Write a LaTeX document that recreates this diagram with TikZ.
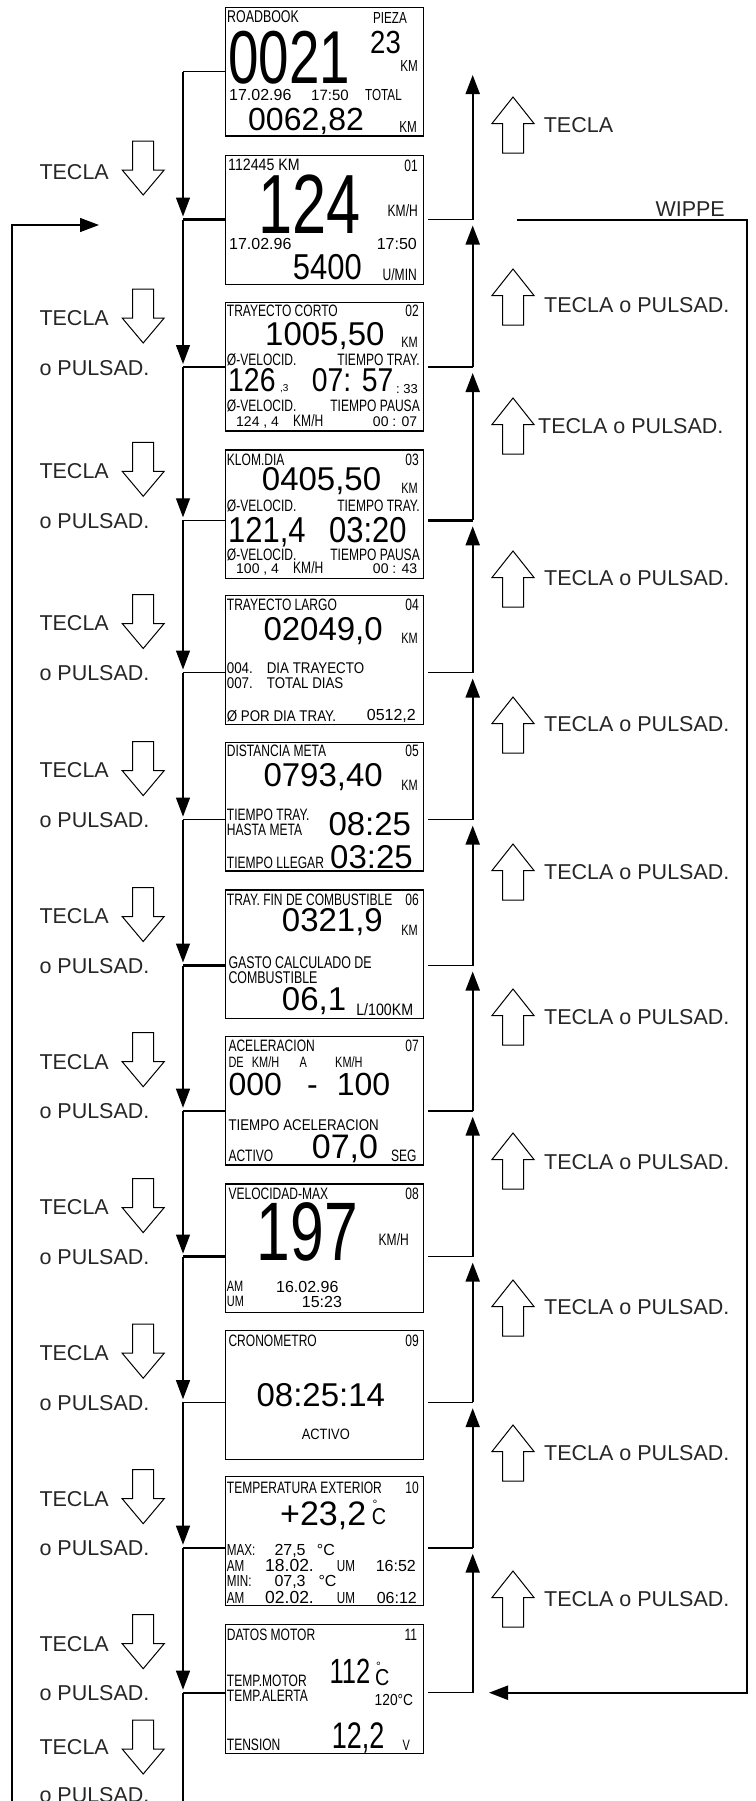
\documentclass[tikz,border=0pt]{standalone}
\usepackage{fontspec}
\setmainfont{Liberation Sans}
\newfontfamily\lcdcnd[FakeStretch=0.73]{Liberation Sans}
\newfontfamily\lcdsmc[FakeStretch=0.86]{Liberation Sans}
\usetikzlibrary{arrows.meta}
\newcommand\lcdc[1]{\lcdcnd\fontsize{#1}{#1}\selectfont}
\newcommand\lcds[1]{\lcdsmc\fontsize{#1}{#1}\selectfont}
\newcommand\lcdr[1]{\rmfamily\fontsize{#1}{#1}\selectfont}
\tikzset{
 dnkey/.pic={\draw[line width=1pt,fill=white] (0,0) -- (21,0) -- (21,29) -- (31.5,29) -- (10.5,54) -- (-10.5,29) -- (0,29) -- cycle;},
 upkey/.pic={\draw[line width=1pt,fill=white] (0,0) -- (21,26.5) -- (10.5,26.5) -- (10.5,56) -- (-10.5,56) -- (-10.5,26.5) -- (-21,26.5) -- cycle;}
}
\begin{document}
\begin{tikzpicture}[x=1pt,y=-1pt,
 lcd/.style={draw,line width=1.4pt,minimum width=198pt,minimum height=128.5pt,anchor=north west,inner sep=0pt},
 tl/.style={inner sep=0pt,anchor=base west},
 tr/.style={inner sep=0pt,anchor=base east},
 tc/.style={inner sep=0pt,anchor=base},
 lab/.style={inner sep=0pt,anchor=base west,text=black!85,font=\lcdr{21.5}},
 lnk/.style={line width=1.3pt},
 rlnk/.style={line width=2pt},
 fwd/.style={-{Triangle[length=19pt,width=14pt]}}]
\useasboundingbox (0,0) rectangle (755,1801);
\foreach \k/\y in {0/6.7,1/155,2/301.7,3/449.3,4/595,5/741.7,6/889.3,7/1035.7,8/1183.3,9/1330,10/1476,11/1624}
 \node[lcd] (b\k) at (225,\y) {};
% ROADBOOK
\begin{scope}[shift={(0,6.7)}]
 \node[tl,font=\lcdc{17}] (t0a) at (227,16) {ROADBOOK};
 \node[tr,font=\lcdc{16}] (t0b) at (407,17.3) {PIEZA};
 \node[tl,font=\lcdc{75}] (t0c) at (228,76.6) {0021};
 \node[tl,font=\lcds{32}] (t0d) at (370,46.6) {23};
 \node[tr,font=\lcdc{16}] (t0e) at (418,65) {KM};
 \node[tl,font=\lcdr{16}] (t0f) at (229,93.5) {17.02.96};
 \node[tl,font=\lcdr{15}] (t0g) at (311,93.5) {17:50};
 \node[tl,font=\lcdc{16}] (t0h) at (365,93.3) {TOTAL};
 \node[tl,font=\lcdr{32}] (t0i) at (248,123.3) {0062,82};
 \node[tr,font=\lcdc{16}] (t0j) at (417,126) {KM};
\end{scope}
% 01
\begin{scope}[shift={(0,155)}]
 \node[tl,font=\lcds{16.5}] (t1a) at (228,15.7) {112445 KM};
 \node[tr,font=\lcdc{16.5}] (t1b) at (418,16) {01};
 \node[tl,font=\lcdc{84}] (t1c) at (258,78) {124};
 \node[tr,font=\lcdc{16.5}] (t1d) at (418,61.7) {KM/H};
 \node[tl,font=\lcdr{16}] (t1e) at (229,94.3) {17.02.96};
 \node[tr,font=\lcdr{16}] (t1f) at (417,94.3) {17:50};
 \node[tl,font=\lcds{36}] (t1g) at (292.7,124.3) {5400};
 \node[tr,font=\lcdc{16.5}] (t1h) at (417,125) {U/MIN};
\end{scope}
% 02
\begin{scope}[shift={(0,301.7)}]
 \node[tl,font=\lcdc{16.5}] (t2a) at (226.7,15) {TRAYECTO CORTO};
 \node[tr,font=\lcdc{16.5}] (t2b) at (419,15) {02};
 \node[tl,font=\lcdr{33}] (t2c) at (265,43.3) {1005,50};
 \node[tr,font=\lcdc{15}] (t2d) at (418,45.3) {KM};
 \node[tl,font=\lcdc{16.5}] (t2e) at (226.7,63.3) {Ø-VELOCID.};
 \node[tr,font=\lcdc{16.5}] (t2f) at (420,63.3) {TIEMPO TRAY.};
 \node[tl,font=\lcds{33}] (t2g) at (228,90) {126};
 \node[tl,font=\lcdr{10}] (t2h) at (280,90) {,3};
 \node[tl,font=\lcds{33}] (t2i) at (311.7,90) {07: 57};
 \node[tr,font=\lcdr{13}] (t2j) at (418,91.3) {:\ 33};
 \node[tl,font=\lcdc{16.5}] (t2k) at (226.7,110) {Ø-VELOCID.};
 \node[tr,font=\lcdc{16.5}] (t2l) at (420,110) {TIEMPO PAUSA};
 \node[tl,font=\lcdr{14}] (t2m) at (236,124.3) {124 , 4};
 \node[tl,font=\lcdc{16.5}] (t2n) at (293,124.3) {KM/H};
 \node[tr,font=\lcdr{14}] (t2o) at (417.3,124.3) {00 : 07};
\end{scope}
% 03
\begin{scope}[shift={(0,449.3)}]
 \node[tl,font=\lcdc{16.5}] (t3a) at (226.7,15.7) {KLOM.DIA};
 \node[tr,font=\lcdc{16.5}] (t3b) at (419,15.7) {03};
 \node[tl,font=\lcdr{33}] (t3c) at (261.7,40.7) {0405,50};
 \node[tr,font=\lcdc{15}] (t3d) at (418,43.7) {KM};
 \node[tl,font=\lcdc{16.5}] (t3e) at (226.7,62.4) {Ø-VELOCID.};
 \node[tr,font=\lcdc{16.5}] (t3f) at (420,62.4) {TIEMPO TRAY.};
 \node[tl,font=\lcds{36}] (t3g) at (228,93.4) {121,4};
 \node[tl,font=\lcds{36}] (t3h) at (329,93.4) {03:20};
 \node[tl,font=\lcdc{16.5}] (t3i) at (226.7,110.7) {Ø-VELOCID.};
 \node[tr,font=\lcdc{16.5}] (t3j) at (420,110.7) {TIEMPO PAUSA};
 \node[tl,font=\lcdr{14}] (t3k) at (236,124) {100 , 4};
 \node[tl,font=\lcdc{16.5}] (t3l) at (293,124) {KM/H};
 \node[tr,font=\lcdr{14}] (t3m) at (417.3,124) {00 : 43};
\end{scope}
% 04
\begin{scope}[shift={(0,595)}]
 \node[tl,font=\lcdc{16.5}] (t4a) at (226.7,15.7) {TRAYECTO LARGO};
 \node[tr,font=\lcdc{16.5}] (t4b) at (419,15.7) {04};
 \node[tl,font=\lcdr{33}] (t4c) at (263.3,45.7) {02049,0};
 \node[tr,font=\lcdc{15}] (t4d) at (418,48.3) {KM};
 \node[tl,font=\lcds{15.5}] (t4e) at (226.7,78.3) {004.\hspace{14pt}DIA TRAYECTO};
 \node[tl,font=\lcds{15.5}] (t4f) at (226.7,93.3) {007.\hspace{14pt}TOTAL DIAS};
 \node[tl,font=\lcds{15.5}] (t4g) at (226.7,126.7) {Ø POR DIA TRAY.};
 \node[tr,font=\lcdr{16}] (t4h) at (416,125) {0512,2};
\end{scope}
% 05
\begin{scope}[shift={(0,741.7)}]
 \node[tl,font=\lcdc{16.5}] (t5a) at (226.7,15) {DISTANCIA META};
 \node[tr,font=\lcdc{16.5}] (t5b) at (419,15) {05};
 \node[tl,font=\lcdr{33}] (t5c) at (263.3,45) {0793,40};
 \node[tr,font=\lcdc{15}] (t5d) at (418,48.3) {KM};
 \node[tl,font=\lcdc{16.5}] (t5e) at (226.7,78.3) {TIEMPO TRAY.};
 \node[tl,font=\lcdc{16.5}] (t5f) at (226.7,93.3) {HASTA META};
 \node[tl,font=\lcdr{33}] (t5g) at (328.3,93.3) {08:25};
 \node[tl,font=\lcdc{16.5}] (t5h) at (226.7,126.6) {TIEMPO LLEGAR};
 \node[tl,font=\lcdr{33}] (t5i) at (330,126.6) {03:25};
\end{scope}
% 06
\begin{scope}[shift={(0,889.3)}]
 \node[tl,font=\lcdc{16.5}] (t6a) at (226.7,15.7) {TRAY. FIN DE COMBUSTIBLE};
 \node[tr,font=\lcdc{16.5}] (t6b) at (419,15.7) {06};
 \node[tl,font=\lcdr{33}] (t6c) at (281.7,42.4) {0321,9};
 \node[tr,font=\lcdc{15}] (t6d) at (418,45.7) {KM};
 \node[tl,font=\lcdc{17}] (t6e) at (228.3,79) {GASTO CALCULADO DE};
 \node[tl,font=\lcdc{17}] (t6f) at (228.3,94) {COMBUSTIBLE};
 \node[tl,font=\lcdr{33}] (t6g) at (281.7,120.7) {06,1};
 \node[tr,font=\lcds{16.5}] (t6h) at (413.3,125.7) {L/100KM};
\end{scope}
% 07
\begin{scope}[shift={(0,1035.7)}]
 \node[tl,font=\lcdc{16.5}] (t7a) at (228.3,16) {ACELERACION};
 \node[tr,font=\lcdc{16.5}] (t7b) at (419,16) {07};
 \node[tl,font=\lcdc{15}] (t7c) at (228.3,31.6) {DE};
 \node[tl,font=\lcdc{15}] (t7d) at (251.7,31.6) {KM/H};
 \node[tl,font=\lcdc{15}] (t7e) at (299.3,31.6) {A};
 \node[tl,font=\lcdc{15}] (t7f) at (335,31.6) {KM/H};
 \node[tl,font=\lcdr{32}] (t7g) at (228.3,59.3) {000};
 \node[tc,font=\lcdr{32}] (t7h) at (312.5,59.3) {-};
 \node[tl,font=\lcdr{32}] (t7i) at (336.7,59.3) {100};
 \node[tl,font=\lcds{15.5}] (t7j) at (228.3,94.3) {TIEMPO ACELERACION};
 \node[tl,font=\lcdc{16.5}] (t7k) at (228.3,126) {ACTIVO};
 \node[tl,font=\lcdr{34}] (t7l) at (311.7,122.6) {07,0};
 \node[tr,font=\lcdc{16.5}] (t7m) at (416.7,126) {SEG};
\end{scope}
% 08
\begin{scope}[shift={(0,1183.3)}]
 \node[tl,font=\lcdc{16.5}] (t8a) at (228.3,16) {VELOCIDAD-MAX};
 \node[tr,font=\lcdc{16.5}] (t8b) at (419,16) {08};
 \node[tl,font=\lcdc{83}] (t8c) at (256.7,77.4) {197};
 \node[tr,font=\lcdc{16.5}] (t8d) at (409,61.7) {KM/H};
 \node[tl,font=\lcdc{15}] (t8e) at (226.7,108.4) {AM};
 \node[tl,font=\lcdc{15}] (t8f) at (226.7,123.4) {UM};
 \node[tl,font=\lcdr{16}] (t8g) at (276,109.4) {16.02.96};
 \node[tl,font=\lcdr{16}] (t8h) at (301.7,124) {15:23};
\end{scope}
% 09
\begin{scope}[shift={(0,1330)}]
 \node[tl,font=\lcdc{16.5}] (t9a) at (228.3,16) {CRONOMETRO};
 \node[tr,font=\lcdc{16.5}] (t9b) at (419,16) {09};
 \node[tc,font=\lcdr{33}] (t9c) at (320.8,76.7) {08:25:14};
 \node[tc,font=\lcds{15}] (t9d) at (325.8,109.3) {ACTIVO};
\end{scope}
% 10
\begin{scope}[shift={(0,1476)}]
 \node[tl,font=\lcdc{16.5}] (t10a) at (226.7,17.3) {TEMPERATURA EXTERIOR};
 \node[tr,font=\lcdc{16.5}] (t10b) at (419,17.3) {10};
 \node[tl,font=\lcdr{34}] (t10c) at (280,49) {+23,2};
 \node[tl,font=\lcds{23}] (t10d) at (371.7,48) {C};
 \node[tc,font=\lcdr{12}] (t10e) at (375,32.2) {°};
 \node[tl,font=\lcdc{16}] (t10f) at (226.7,79) {MAX:};
 \node[tl,font=\lcdr{16}] (t10g) at (274.3,79) {27,5};
 \node[tl,font=\lcdr{16}] (t10h) at (316.7,79) {°C};
 \node[tl,font=\lcdc{16}] (t10i) at (226.7,95.7) {AM};
 \node[tl,font=\lcdr{17.5}] (t10j) at (265,95.7) {18.02.};
 \node[tl,font=\lcdc{16}] (t10k) at (336.7,95.7) {UM};
 \node[tr,font=\lcdr{16}] (t10l) at (416,95.7) {16:52};
 \node[tl,font=\lcdc{16}] (t10m) at (226.7,110.7) {MIN:};
 \node[tl,font=\lcdr{16}] (t10n) at (274.3,110.7) {07,3};
 \node[tl,font=\lcdr{16}] (t10o) at (318.3,110.7) {°C};
 \node[tl,font=\lcdc{16}] (t10p) at (226.7,127.3) {AM};
 \node[tl,font=\lcdr{17.5}] (t10q) at (265,127.3) {02.02.};
 \node[tl,font=\lcdc{16}] (t10r) at (336.7,127.3) {UM};
 \node[tr,font=\lcdr{16}] (t10s) at (417,127.3) {06:12};
\end{scope}
% 11
\begin{scope}[shift={(0,1624)}]
 \node[tl,font=\lcdc{16.5}] (t11a) at (226.7,16) {DATOS MOTOR};
 \node[tr,font=\lcdc{16.5}] (t11b) at (417.3,16) {11};
 \node[tl,font=\lcdc{35}] (t11c) at (329.3,59.3) {112};
 \node[tl,font=\lcds{23}] (t11d) at (375,61) {C};
 \node[tc,font=\lcdr{12}] (t11e) at (378.5,46.2) {°};
 \node[tl,font=\lcdc{16.5}] (t11f) at (226.7,62.7) {TEMP.MOTOR};
 \node[tl,font=\lcdc{16.5}] (t11g) at (226.7,77.7) {TEMP.ALERTA};
 \node[tr,font=\lcds{16}] (t11h) at (413.3,81) {120°C};
 \node[tl,font=\lcdc{16.5}] (t11i) at (226.7,126.7) {TENSION};
 \node[tl,font=\lcdc{37}] (t11j) at (331.7,124.3) {12,2};
 \node[tr,font=\lcdc{15}] (t11k) at (410,126.7) {V};
\end{scope}
% junctions
\foreach \k/\j in {0/71.7,1/219.5,2/367,3/520.3,4/672.5,5/819.6,6/965.5,7/1110.7,8/1256.6,9/1402.2,10/1547.7,11/1692.7}{
 \coordinate (jl\k) at (183,\j);
 \coordinate (js\k) at (428,\j);
 \coordinate (jr\k) at (472.7,\j);
}
\coordinate (jlend) at (183,1801);
\coordinate (jtop) at (472.7,75);
\draw[lnk] (jl0 -| b0.west) -- (jl0);
\foreach \k/\p/\lw/\rw in {1/0/2.4/1.3,2/1/2.4/2.4,3/2/1.3/2.4,4/3/1.3/1.3,5/4/1.3/1.3,6/5/2.4/1.3,7/6/2.4/2.4,8/7/2.4/1.3,9/8/1.3/1.3,10/9/2.4/2.4,11/10/2.4/1.3}{
 \draw[line width=\lw pt] (jl\k) -- (jl\k -| b\k.west);
 \draw[line width=\rw pt] (js\k) -- (jr\k);
 \draw[lnk,fwd,shorten >=3pt] (jl\p) -- (jl\k);
}
\foreach \k/\p in {2/1,3/2,4/3,5/4,6/5,7/6,8/7,9/8,10/9,11/10}
 \draw[rlnk,fwd,shorten >=6pt] (jr\k) -- (jr\p);
\draw[rlnk,fwd] (jr1) -- (jtop);
\draw[lnk] (jl11) -- (jlend);
% loop back on the left
\coordinate (lp0) at (12,1801);
\coordinate (lp1) at (12,225);
\coordinate (lp2) at (99,225);
\draw[lnk,fwd] (lp0) -- (lp1) -- (lp2);
% wippe
\coordinate (w0) at (516.6,220);
\coordinate (w1) at (747,220);
\coordinate (w2) at (747,1692.7);
\coordinate (w3) at (489,1692.7);
\draw[line width=2.2pt,fwd] (w0) -- (w1) -- (w2) -- (w3);
\node[lab,anchor=base east] (wp) at (725,216.5) {WIPPE};
% keys down
\node[lab] (kt1) at (39.3,179.3) {TECLA};
\pic (kd1) at (132.7,141) {dnkey};
\foreach \k/\j in {2/367,3/520.3,4/672.5,5/819.6,6/965.5,7/1110.7,8/1256.6,9/1402.2,10/1547.7,11/1692.7}{
 \node[lab] (kt\k) at (39.3,\j-41.7) {TECLA};
 \pic (kd\k) at (132.7,\j-78) {dnkey};
 \node[lab] (kp\k) at (39.3,\j+8) {o PULSAD.};
}
\node[lab] (kt12) at (39.3,1754.3) {TECLA};
\pic (kd12) at (132.7,1720) {dnkey};
\node[lab] (kp12) at (39.3,1802.3) {o PULSAD.};
% keys up
\pic (ku0) at (513,97) {upkey};
\node[lab] (ut0) at (543.6,132.3) {TECLA};
\foreach \c/\a/\x [count=\i] in {305/269/544,426/398/538,578/551/544,724/697/544,872/844/544,1017/989/544,1162/1133/544,1307/1280/544,1453/1425/544,1599/1571/544}{
 \pic (ku\i) at (513,\a) {upkey};
 \node[lab] (ut\i) at (\x,\c+7.3) {TECLA o PULSAD.};
}
\end{tikzpicture}
\end{document}
